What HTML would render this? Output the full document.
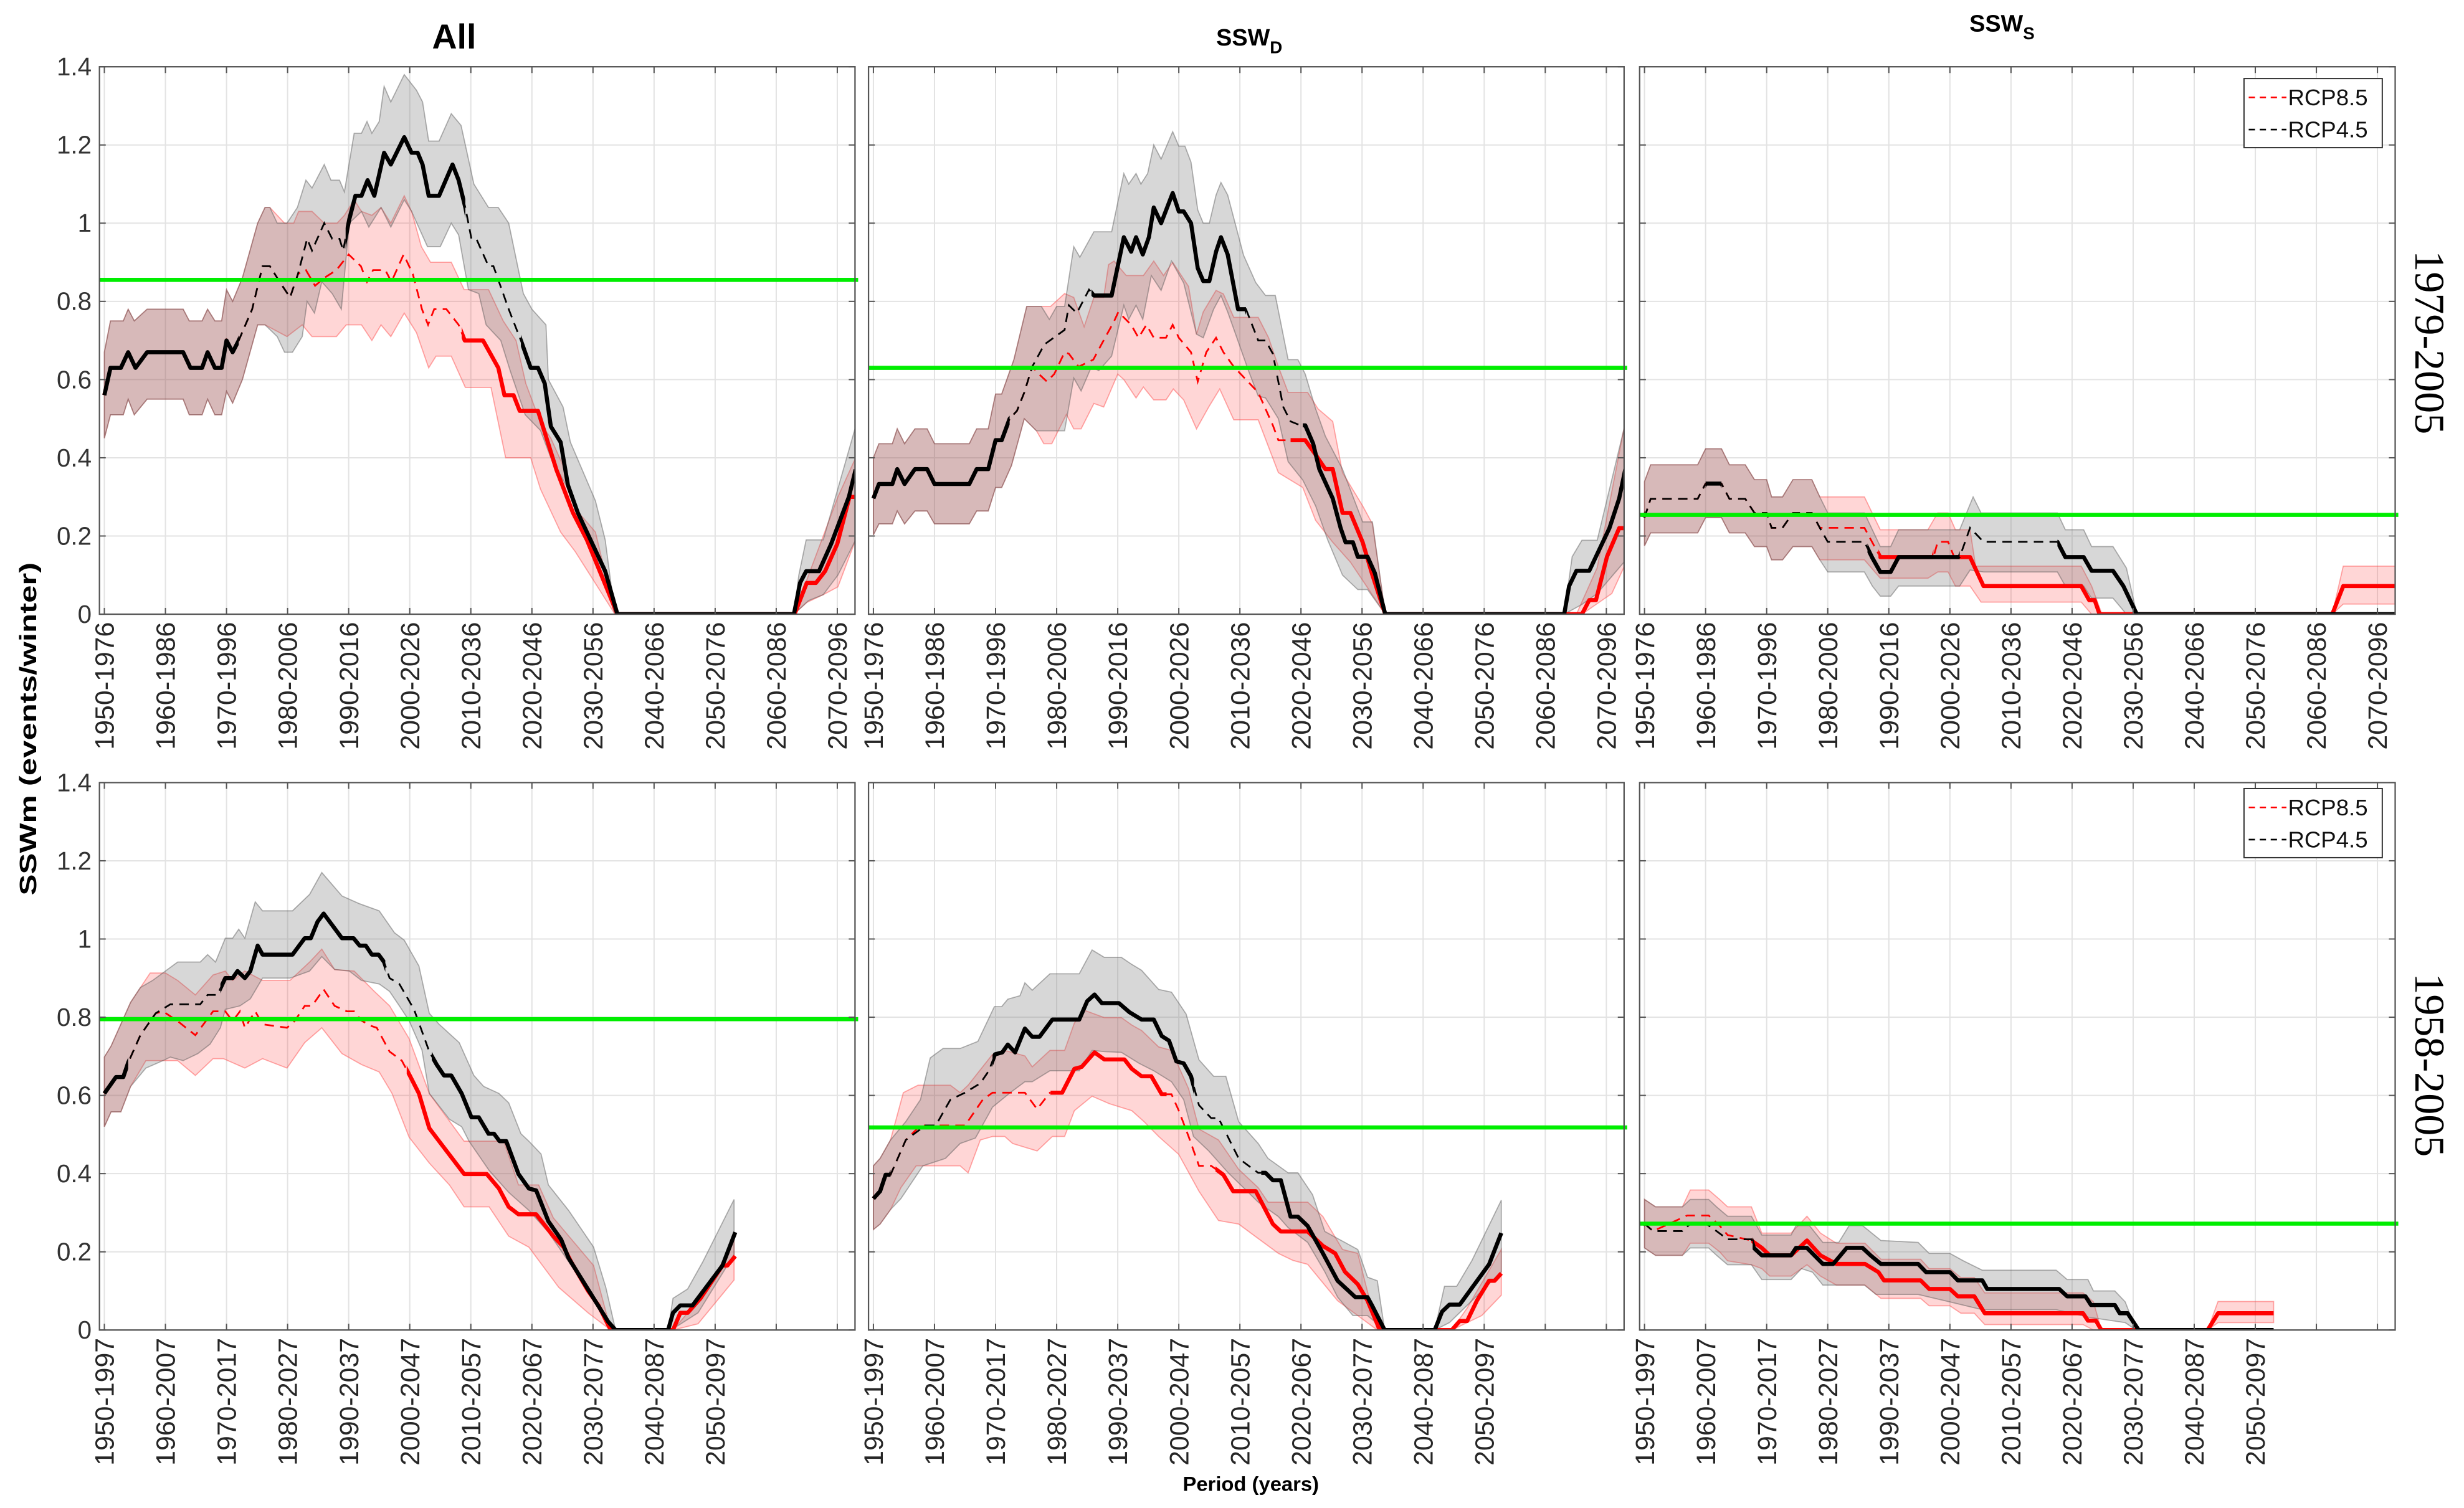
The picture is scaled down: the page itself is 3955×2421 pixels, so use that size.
<!DOCTYPE html>
<html><head><meta charset="utf-8"><title>SSW frequency (SSWm) for RCP4.5 and RCP8.5, 1950–2097</title>
<style>
html,body{margin:0;padding:0;background:#fff;}
svg{display:block;}
text{font-family:"Liberation Sans",Arial,sans-serif;}
</style></head>
<body>
<svg id="fig" xmlns="http://www.w3.org/2000/svg" width="3955" height="2421" viewBox="0 0 1568 960" preserveAspectRatio="none">
<rect x="0" y="0" width="1568" height="960" fill="#fff"/>
<g id="layer"></g>
<text x="289" y="31" text-anchor="middle" font-size="22" font-weight="bold">All</text>
<text x="795" y="29" text-anchor="middle" font-size="15" font-weight="bold">SSW<tspan font-size="11" dy="5">D</tspan></text>
<text x="1274" y="20" text-anchor="middle" font-size="15" font-weight="bold">SSW<tspan font-size="11" dy="5">S</tspan></text>
<text transform="translate(1537,218) rotate(90)" text-anchor="middle" font-size="27" style="font-family:'Liberation Serif',serif">1979-2005</text>
<text transform="translate(1537,678) rotate(90)" text-anchor="middle" font-size="27" style="font-family:'Liberation Serif',serif">1958-2005</text>
<text transform="translate(23,464) rotate(-90)" text-anchor="middle" font-size="15" font-weight="bold" textLength="212" lengthAdjust="spacingAndGlyphs">SSWm (events/winter)</text>
<text x="796" y="949" text-anchor="middle" font-size="13" font-weight="bold">Period (years)</text>
</svg>
<script>
// ---------- data (year, value) ----------
// Panel 1: All, 1979-2005
const p1_kM=[[1950,.56],[1951,.63],[1952.7,.63],[1953.9,.67],[1955.1,.63],[1957,.67],[1962.9,.67],[1964.1,.63],[1966,.63],[1966.9,.67],[1968.1,.63],[1969.2,.63],[1970,.7],[1971,.67],[1972,.7],[1974.2,.78],[1975.9,.89],[1977.1,.89],[1978.7,.85],[1980.4,.81],[1981.7,.87],[1983.2,.96],[1984,.93],[1986,1.0],[1987.3,.96],[1988.5,.96],[1989.1,.93],[1990.1,1.01],[1991.1,1.07],[1992.1,1.07],[1993.1,1.11],[1994.2,1.07],[1995.8,1.18],[1996.9,1.15],[1999.1,1.22],[2000.3,1.18],[2001.3,1.18],[2002.1,1.15],[2003.1,1.07],[2004.8,1.07],[2007,1.15],[2008,1.11],[2009.1,1.04],[2010.1,.96],[2010.9,.96],[2012.9,.89],[2013.7,.89],[2016.2,.78],[2018.2,.7],[2019.8,.63],[2021,.63],[2022.1,.59],[2023.1,.48],[2024.7,.44],[2025.9,.33],[2027.5,.26],[2032,.11],[2034,0],[2062.9,0],[2063.9,.08],[2064.9,.11],[2067,.11],[2069,.18],[2071.9,.3],[2073,.37]];
const p1_kD=[[1972,1989.5],[2009.1,2018.2]];
const p1_kH=[[1950,.67],[1951,.75],[1953.1,.75],[1953.9,.78],[1954.9,.75],[1957,.78],[1962.9,.78],[1963.9,.75],[1966,.75],[1966.9,.78],[1968.1,.75],[1969.2,.75],[1970,.83],[1971,.8],[1972.6,.86],[1975.1,1.0],[1976.3,1.04],[1977.1,1.04],[1978.3,1.0],[1979.9,1.0],[1981.6,1.04],[1983,1.11],[1984,1.09],[1986,1.15],[1987.1,1.11],[1988.5,1.11],[1989.3,1.08],[1990.9,1.23],[1992.1,1.23],[1993,1.26],[1993.8,1.23],[1995,1.26],[1995.8,1.35],[1996.9,1.31],[1999.1,1.38],[2001.1,1.34],[2002.1,1.31],[2003.1,1.21],[2004.8,1.21],[2006.8,1.28],[2008.4,1.25],[2010.5,1.1],[2012.9,1.04],[2014.5,1.04],[2016.2,1.0],[2018.6,.82],[2020,.78],[2022.3,.74],[2022.7,.6],[2025.1,.53],[2026.3,.44],[2030.4,.29],[2032,.19],[2033.6,0],[2062.9,0],[2063.7,.1],[2064.9,.19],[2067.7,.19],[2073,.48]];
const p1_kL=[[1950,.45],[1951,.51],[1953.1,.51],[1953.9,.55],[1954.9,.51],[1957,.55],[1962.9,.55],[1963.9,.51],[1966,.51],[1966.9,.55],[1968.1,.51],[1969.2,.51],[1970,.57],[1971,.54],[1972.6,.6],[1975.1,.74],[1976.3,.74],[1978.3,.71],[1979.5,.67],[1980.8,.67],[1982.4,.71],[1983.2,.8],[1984.4,.77],[1985.6,.85],[1987.3,.82],[1988.8,.78],[1990.1,1.0],[1992.1,1.03],[1993.3,.99],[1995.3,1.04],[1996.9,.99],[1999.1,1.06],[2000.3,1.03],[2002.9,.94],[2005,.94],[2006.8,1.0],[2008,.97],[2009.6,.83],[2011.3,.82],[2012.5,.74],[2014.9,.7],[2016.5,.62],[2018.9,.51],[2021.4,.47],[2023.1,.4],[2026.3,.31],[2029.6,.19],[2033.6,0],[2062.9,0],[2065.3,.035],[2067.7,.05],[2070.1,.1],[2073,.19]];
const p1_rM=p1_kM.filter(p=>p[0]<1981).concat([[1981.7,.87],[1983,.88],[1984.5,.84],[1986,.86],[1988,.88],[1990,.92],[1992,.89],[1993,.85],[1994,.88],[1996,.88],[1997,.85],[1999,.92],[2000.5,.87],[2002,.78],[2003,.74],[2004,.78],[2006,.78],[2008,.74],[2009,.7],[2012,.7],[2014.5,.63],[2015.5,.56],[2017,.56],[2018,.52],[2021,.52],[2024,.37],[2026.7,.26],[2029,.19],[2034,0],[2063,0],[2065,.08],[2066.5,.08],[2068,.11],[2070,.18],[2072,.3],[2073,.3]]);
const p1_rD=[[1950,2008.5]];
const p1_rH=p1_kH.filter(p=>p[0]<1977.2).concat([[1979.5,1.0],[1981,1.0],[1981.8,1.03],[1984,1.03],[1986,1.0],[1988.1,1.0],[1989.3,1.02],[1990.9,1.06],[1992.1,1.03],[1993.8,1.02],[1995.3,1.04],[1996.9,1.0],[1999.1,1.07],[2000.3,1.03],[2001.9,.94],[2003.4,.9],[2006.8,.9],[2008.9,.83],[2012.9,.83],[2015.3,.75],[2017.4,.7],[2019,.59],[2021.4,.49],[2023.1,.45],[2025.1,.38],[2027.1,.27],[2030.4,.21],[2033.6,0],[2062.9,0],[2065.3,.1],[2070.1,.3],[2073,.4]]);
const p1_rL=p1_kL.filter(p=>p[0]<1976.5).concat([[1979.9,.71],[1982.4,.74],[1984,.71],[1988,.71],[1989.6,.74],[1992.1,.74],[1993.8,.7],[1995.3,.74],[1996.9,.71],[1999.1,.77],[2001.1,.72],[2003.1,.63],[2004.3,.66],[2006.8,.66],[2009.1,.58],[2013.3,.58],[2015.7,.4],[2019.8,.4],[2021.4,.32],[2024.7,.21],[2027.1,.16],[2033.6,0],[2062.9,0],[2065,.03],[2067.7,.05],[2070.1,.07],[2073,.19]]);
const p1_green=[0.855];

// Panel 2: SSW_D, 1979-2005
const p2_kM=[[1950,.296],[1950.9,.333],[1953.1,.333],[1953.9,.371],[1955.1,.333],[1956.8,.371],[1958.8,.371],[1960,.333],[1965.7,.333],[1966.9,.371],[1968.8,.371],[1970,.445],[1971,.445],[1972.3,.5],[1973.5,.52],[1974.7,.567],[1976,.633],[1978,.69],[1981.3,.727],[1982,.79],[1983.3,.77],[1985.3,.83],[1986.1,.815],[1989,.815],[1991,.964],[1992.2,.927],[1993,.964],[1994.1,.92],[1995.1,.964],[1995.9,1.04],[1997.1,1.0],[1999,1.077],[2000,1.03],[2000.8,1.03],[2002,1.0],[2003.1,.885],[2004,.852],[2005,.852],[2006.1,.927],[2006.9,.964],[2008,.92],[2009.7,.78],[2011,.78],[2013,.7],[2014.2,.7],[2015.4,.666],[2017.1,.53],[2018.3,.493],[2019.9,.483],[2020.7,.483],[2022,.436],[2023,.371],[2025.2,.296],[2026.5,.22],[2027.3,.184],[2028.5,.184],[2029.3,.147],[2030.9,.147],[2032.1,.105],[2033.8,0],[2063.1,0],[2063.9,.072],[2065.1,.111],[2067.2,.111],[2070.5,.22],[2072.1,.296],[2073.1,.371]];
const p2_kD=[[1972.3,1985.7],[2011,2020.3]];
const p2_kH=[[1950,.4],[1950.9,.436],[1953.1,.436],[1953.9,.474],[1955.1,.436],[1956.8,.474],[1958.8,.474],[1960,.436],[1965.7,.436],[1966.9,.474],[1968.8,.474],[1970,.563],[1971,.563],[1973,.651],[1975.1,.787],[1977.5,.787],[1978.8,.754],[1980,.787],[1981.3,.787],[1982.8,.94],[1983.8,.913],[1986.1,.978],[1989,.978],[1991,1.127],[1991.8,1.1],[1993,1.127],[1993.8,1.1],[1994.9,1.127],[1995.9,1.2],[1997.1,1.164],[1999,1.234],[2000,1.197],[2001,1.197],[2002,1.156],[2003.1,1.034],[2004,1.0],[2005,1.0],[2006.1,1.072],[2006.9,1.104],[2008,1.072],[2010.6,.918],[2012.6,.848],[2014.2,.815],[2015.8,.815],[2017.9,.651],[2019.5,.651],[2020.7,.614],[2022.4,.525],[2024,.455],[2026.8,.371],[2030.1,.236],[2031.7,.236],[2033.8,0],[2063.1,0],[2064.4,.147],[2066,.189],[2068.5,.189],[2073.1,.488]];
const p2_kL=[[1950,.203],[1950.9,.231],[1953.1,.231],[1953.9,.264],[1955.1,.231],[1956.8,.264],[1958.8,.264],[1960,.231],[1965.7,.231],[1966.9,.264],[1968.8,.264],[1970,.324],[1971,.324],[1972.6,.38],[1974.7,.5],[1976.7,.469],[1981.3,.469],[1982.8,.604],[1984,.571],[1985.7,.633],[1986.9,.623],[1989,.66],[1991,.79],[1991.8,.754],[1993,.79],[1994.1,.754],[1995.5,.866],[1997.1,.828],[1998.8,.903],[2000.8,.847],[2002.9,.716],[2004,.707],[2005.7,.78],[2006.9,.815],[2008,.773],[2009.3,.716],[2011.4,.623],[2013,.558],[2014.2,.553],[2016.3,.5],[2017.9,.39],[2020.3,.343],[2022.4,.277],[2024.4,.189],[2026.8,.1],[2029.3,.063],[2030.9,.063],[2033.8,0],[2063.1,0],[2066,.025],[2068.5,.053],[2073.1,.137]];
const p2_rM=p2_kM.filter(p=>p[0]<1976.5).concat([[1977.1,.614],[1978.4,.595],[1979.6,.614],[1981.3,.67],[1982,.666],[1983.6,.633],[1986,.651],[1987.3,.689],[1989.4,.749],[1990.1,.773],[1992.2,.74],[1993.4,.707],[1994.7,.74],[1995.9,.707],[1997.9,.707],[1999,.74],[2000,.707],[2002,.67],[2003.1,.595],[2004.5,.67],[2006.1,.707],[2007.3,.67],[2009,.633],[2013,.567],[2015.4,.483],[2016.3,.445],[2017.9,.445],[2020.7,.445],[2022.4,.408],[2024,.371],[2025.2,.371],[2026.8,.259],[2028.1,.259],[2030.1,.184],[2031.7,.1],[2033.8,0],[2066,0],[2067.2,.036],[2068.3,.036],[2070.1,.147],[2072.1,.22],[2073.1,.22]]);
const p2_rD=[[1950,2018.3]];
const p2_rH=p2_kH.filter(p=>p[0]<1976).concat([[1976.7,.787],[1979,.787],[1981.3,.82],[1982.8,.81],[1984.5,.735],[1986.1,.81],[1987.7,.81],[1988.5,.894],[1989.4,.903],[1991.4,.866],[1993,.866],[1994.2,.866],[1995.9,.903],[1997.5,.866],[1999,.9],[2001.6,.838],[2002.9,.716],[2004,.773],[2006.1,.828],[2007.3,.819],[2009,.759],[2013,.759],[2014.7,.707],[2016.3,.633],[2017.9,.567],[2021.1,.567],[2022.8,.525],[2025.2,.493],[2026.8,.362],[2030.1,.277],[2031.7,.231],[2033.8,0],[2065.1,0],[2068.5,.119],[2073.1,.493]]);
const p2_rL=p2_kL.filter(p=>p[0]<1976).concat([[1976.7,.469],[1977.9,.436],[1979.2,.436],[1981.6,.511],[1982.8,.474],[1984,.474],[1986.1,.539],[1987.7,.53],[1990,.614],[1991,.6],[1993,.553],[1994.2,.581],[1995.9,.548],[1997.9,.548],[1999.1,.576],[2000.8,.548],[2002.9,.474],[2004.9,.53],[2006.7,.576],[2009,.497],[2013,.497],[2016.3,.362],[2020.3,.324],[2022.4,.24],[2025.2,.184],[2028.1,.133],[2033.8,0],[2066,0],[2070.9,.053],[2073.1,.128]]);
const p2_green=[0.63];

// Panel 3: SSW_S, 1979-2005
const p3_kM=[[1950,.247],[1951,.295],[1958.7,.295],[1960,.334],[1962.6,.334],[1963.9,.295],[1966.5,.295],[1968,.259],[1970,.259],[1970.8,.221],[1972.6,.221],[1974.3,.259],[1977.4,.259],[1978.7,.221],[1980,.185],[1986,.185],[1987.3,.144],[1988.6,.108],[1990.3,.108],[1991.6,.146],[2001.6,.146],[2003.3,.221],[2005.5,.185],[2017.6,.185],[2018.9,.146],[2021.9,.146],[2023.2,.111],[2026.7,.111],[2028.4,.072],[2030.6,0],[2072.9,0]];
const p3_kD=[[1950,1960],[1962.6,1986.5],[2001.6,2017.6]];
const p3_kH=[[1950,.339],[1951,.382],[1958.7,.382],[1960,.423],[1962.6,.423],[1963.9,.382],[1966.5,.382],[1968,.344],[1970,.344],[1970.8,.3],[1972.6,.3],[1974.3,.344],[1977.4,.344],[1978.7,.3],[1980,.259],[1986,.259],[1987.3,.216],[1988.6,.173],[1990.3,.173],[1991.6,.216],[2001.6,.216],[2003.8,.3],[2005.1,.259],[2017.6,.259],[2018.9,.216],[2021.9,.216],[2023.2,.173],[2026.7,.173],[2028.9,.118],[2030.6,0],[2072.9,0]];
const p3_kL=[[1950,.175],[1951,.208],[1958.7,.208],[1960,.247],[1962.6,.247],[1963.9,.208],[1966.5,.208],[1968,.173],[1970,.173],[1970.8,.139],[1972.6,.139],[1974.3,.173],[1977.4,.173],[1978.7,.139],[1980,.108],[1986,.108],[1987.3,.072],[1988.6,.046],[1990.3,.046],[1991.6,.072],[2001.6,.072],[2003.3,.113],[2005.5,.108],[2017.6,.108],[2018.9,.072],[2021.9,.072],[2023.2,.041],[2026.7,.041],[2028.9,0],[2072.9,0]];
const p3_rM=p3_kM.filter(p=>p[0]<1978).concat([[1978.7,.221],[1986,.221],[1988.6,.146],[1997.3,.146],[1998,.185],[1999.7,.185],[2000.7,.146],[2003.3,.146],[2005.5,.072],[2021.5,.072],[2022.8,.036],[2023.7,.036],[2024.5,0],[2062.6,0],[2064.4,.072],[2072.9,.072]]);
const p3_rD=[[1950,1988.3],[1997.3,2001]];
const p3_rH=p3_kH.filter(p=>p[0]<1978).concat([[1978.7,.3],[1986,.3],[1988.6,.216],[1996.4,.216],[1998,.259],[1999.7,.259],[2000.9,.216],[2003.3,.216],[2004.2,.123],[2021.5,.123],[2023.2,.072],[2024.9,0],[2062.6,0],[2064.4,.123],[2072.9,.123]]);
const p3_rL=p3_kL.filter(p=>p[0]<1978).concat([[1978.7,.139],[1986,.139],[1988.6,.092],[1996.4,.092],[1998,.108],[1999.7,.108],[2000.9,.072],[2003.3,.072],[2005.1,.031],[2021.5,.031],[2023.2,0],[2062.6,0],[2064.4,.026],[2072.9,.026]]);
const p3_green=[0.254];

// Panel 4: All, 1958-2005
const p4_kM=[[1950,.605],[1951.9,.647],[1953.1,.647],[1953.9,.684],[1955.9,.754],[1958.4,.81],[1960.8,.833],[1965.7,.833],[1966.9,.857],[1968.5,.857],[1969.8,.9],[1971,.9],[1971.8,.918],[1973,.9],[1973.9,.918],[1975.1,.983],[1975.9,.96],[1980.8,.96],[1982.8,1.002],[1983.8,1.002],[1984.9,1.044],[1985.9,1.065],[1988.9,1.002],[1990.8,1.002],[1991.8,.983],[1992.8,.983],[1993.8,.96],[1994.9,.96],[1995.8,.941],[1996.7,.9],[1998.3,.885],[2000.7,.82],[2003.2,.712],[2004.4,.679],[2005.6,.651],[2006.8,.651],[2008.5,.605],[2010.1,.544],[2011.3,.544],[2012.9,.502],[2013.8,.502],[2014.7,.483],[2015.8,.483],[2017.8,.399],[2019.5,.362],[2020.7,.357],[2022.7,.278],[2024.8,.231],[2026,.184],[2032.5,.021],[2033.7,0],[2042.3,0],[2043.1,.044],[2044.3,.063],[2046.3,.063],[2051.2,.165],[2053.3,.25]];
const p4_kD=[[1953.9,1969],[1996,2003.6]];
const p4_kH=[[1950,.698],[1951.1,.726],[1954.3,.838],[1955.9,.876],[1957.9,.894],[1960,.918],[1962,.941],[1965.7,.941],[1966.9,.96],[1968.2,.941],[1969.8,1.002],[1971,1.002],[1972,1.025],[1973,1.002],[1974.7,1.095],[1975.9,1.072],[1980.8,1.072],[1983.6,1.114],[1985.6,1.17],[1988.9,1.11],[1991.8,1.09],[1995,1.072],[1997.5,1.016],[1999.1,.997],[2001.5,.931],[2003.2,.81],[2004.8,.782],[2008.1,.735],[2010.5,.651],[2012.1,.623],[2014.6,.605],[2016.2,.581],[2018.2,.502],[2019.5,.483],[2021.5,.45],[2022.7,.371],[2026,.306],[2030.1,.212],[2032.1,.109],[2033.7,0],[2042.3,0],[2043.1,.081],[2045.5,.105],[2048,.175],[2053.1,.334]];
const p4_kL=[[1950,.52],[1951.1,.558],[1952.7,.558],[1954.3,.623],[1956.8,.67],[1959.6,.689],[1960.8,.698],[1962.9,.689],[1965.3,.707],[1967.3,.731],[1969,.773],[1969.8,.82],[1972.2,.829],[1973.9,.847],[1975.9,.9],[1980.4,.9],[1983.6,.918],[1985.6,.955],[1987.7,.922],[1990.1,.918],[1992.1,.894],[1995,.885],[1996.7,.866],[1998.3,.829],[1999.9,.791],[2002,.716],[2003.2,.605],[2006.5,.539],[2008.5,.52],[2009.7,.483],[2013,.408],[2016.2,.352],[2019.5,.306],[2022.7,.25],[2026,.175],[2029.2,.1],[2031.7,.035],[2033.7,0],[2042.3,0],[2043.9,.011],[2047.2,.044],[2053.1,.193]];
const p4_rM=p4_kM.filter(p=>p[0]<1956).concat([[1958.4,.81],[1959.6,.815],[1962,.79],[1964.9,.754],[1967.8,.815],[1969.8,.815],[1971,.79],[1972.2,.815],[1973,.773],[1974.7,.815],[1975.9,.782],[1979.9,.773],[1981.2,.791],[1982.8,.829],[1984,.829],[1985.9,.871],[1987.7,.829],[1989.7,.815],[1990.9,.815],[1992.1,.791],[1993.8,.777],[1994.6,.773],[1996.7,.712],[1998.7,.689],[2000,.651],[2001.5,.605],[2003.2,.516],[2004.8,.483],[2008.9,.399],[2012.6,.399],[2014.6,.362],[2016.2,.315],[2017.8,.296],[2020.7,.296],[2023.5,.24],[2025.2,.212],[2026.4,.175],[2029.2,.1],[2030.9,.063],[2032.9,0],[2043.1,0],[2044.3,.044],[2045.5,.044],[2047.6,.081],[2051.2,.165],[2052,.165],[2053.3,.189]]);
const p4_rD=[[1950,1999.5]];
const p4_rH=p4_kH.filter(p=>p[0]<1955).concat([[1957.5,.913],[1960,.913],[1962,.894],[1964.9,.857],[1967.8,.908],[1969.8,.918],[1971,.894],[1973,.918],[1975.9,.894],[1980.4,.894],[1983.6,.941],[1985.6,.974],[1987.7,.922],[1990.9,.918],[1994.2,.866],[1996.7,.829],[1999.9,.745],[2003.2,.605],[2008.9,.483],[2015.4,.483],[2017.8,.371],[2021.1,.371],[2023.5,.287],[2030.1,.165],[2032.9,0],[2043.1,0],[2045.5,.044],[2049.3,.119],[2053.1,.231]]);
const p4_rL=p4_kL.filter(p=>p[0]<1955).concat([[1956.8,.689],[1960,.689],[1962,.689],[1964.9,.651],[1967.8,.694],[1969.5,.694],[1973,.67],[1975.9,.694],[1979.9,.67],[1982.8,.735],[1985.6,.773],[1988.9,.707],[1992.1,.679],[1995,.66],[1997.1,.605],[1999.9,.493],[2003.2,.427],[2006.5,.371],[2008.9,.315],[2013,.315],[2016.2,.24],[2019.5,.212],[2024.4,.109],[2029.2,.044],[2032.9,0],[2043.1,0],[2047.2,.016],[2053.1,.128]]);
const p4_green=[0.795];

// Panel 5: SSW_D, 1958-2005
const p5_kM=[[1950,.336],[1951.1,.355],[1952,.397],[1952.8,.397],[1955.3,.486],[1958.5,.523],[1960.2,.523],[1962.6,.589],[1965,.607],[1967.5,.631],[1968.9,.663],[1969.9,.705],[1971.1,.71],[1972,.73],[1973.2,.71],[1974.8,.771],[1976,.75],[1977.2,.75],[1979.3,.794],[1983.7,.794],[1985,.841],[1986.2,.858],[1987.4,.836],[1990.2,.836],[1991.9,.813],[1993.9,.794],[1995.9,.794],[1997.2,.752],[1998.4,.74],[1999.6,.687],[2000.8,.682],[2002,.649],[2003.3,.575],[2005.3,.542],[2006.5,.542],[2009.8,.439],[2012.2,.411],[2013,.402],[2014.2,.402],[2015.4,.383],[2016.7,.383],[2018.3,.29],[2019.5,.29],[2021.1,.266],[2023.6,.196],[2026,.126],[2027.6,.103],[2028.9,.084],[2030.9,.084],[2031.7,.061],[2033.7,0],[2041.9,0],[2043.1,.047],[2044.3,.065],[2046,.065],[2050.8,.168],[2052.8,.248]];
const p5_kD=[[1952.8,1969.5],[2002.5,2013.5]];
const p5_kH=[[1950,.42],[1951.1,.439],[1952.8,.486],[1955.3,.533],[1957.7,.589],[1959.3,.696],[1961.4,.72],[1964.2,.72],[1967.1,.738],[1969.8,.827],[1971,.827],[1972,.846],[1974,.855],[1974.8,.888],[1976,.869],[1978.9,.911],[1983.7,.911],[1985.8,.972],[1987.8,.953],[1990.6,.953],[1992.3,.935],[1993.9,.92],[1996.7,.871],[1998.8,.864],[2001.2,.808],[2003.3,.691],[2005.7,.649],[2007.7,.649],[2009.8,.533],[2013,.477],[2014.6,.439],[2017.9,.402],[2019.5,.402],[2021.9,.346],[2023.9,.252],[2026,.234],[2029.3,.206],[2030.9,.135],[2032.5,.126],[2033.7,0],[2041.9,0],[2043.5,.112],[2045.5,.112],[2048,.178],[2052.8,.332]];
const p5_kL=[[1950,.257],[1951.1,.271],[1952.8,.308],[1954.5,.336],[1958.1,.42],[1961.8,.439],[1964.2,.477],[1966.7,.491],[1969.5,.57],[1972.4,.607],[1974.8,.635],[1976,.635],[1978.9,.663],[1983.7,.663],[1985.8,.715],[1987.8,.712],[1990.6,.71],[1993.5,.682],[1995.9,.663],[1998.8,.635],[2000.8,.589],[2002.4,.495],[2004.9,.458],[2008.1,.402],[2010.6,.364],[2013,.327],[2016.3,.29],[2017.9,.262],[2021.1,.224],[2023.9,.149],[2026,.084],[2028.5,.037],[2030.9,.037],[2033.7,0],[2041.9,0],[2044.3,.019],[2048,.075],[2052.8,.149]];
const p5_rM=p5_kM.filter(p=>p[0]<1957).concat([[1957.7,.523],[1965,.523],[1967.9,.589],[1969.5,.607],[1974.8,.607],[1976.8,.565],[1978.9,.607],[1980.9,.607],[1982.9,.668],[1984.1,.673],[1986.2,.71],[1987.8,.692],[1991.1,.692],[1992.3,.668],[1993.9,.649],[1995.5,.649],[1997.2,.603],[1998.8,.603],[2000,.561],[2001.6,.495],[2003.3,.42],[2005.3,.42],[2007.3,.397],[2008.9,.355],[2012.6,.355],[2015.4,.271],[2016.7,.252],[2021.1,.252],[2023.6,.215],[2025.6,.196],[2027.2,.149],[2029.3,.117],[2030.9,.075],[2032.9,0],[2044.7,0],[2046,.023],[2047.2,.023],[2048.8,.075],[2050.8,.126],[2051.7,.126],[2052.8,.145]]);
const p5_rD=[[1950,1979],[1998,2006]];
const p5_rH=p5_kH.filter(p=>p[0]<1954).concat([[1954.9,.607],[1957.3,.626],[1962.6,.626],[1964.2,.607],[1965.5,.626],[1969.5,.705],[1971.5,.715],[1974.8,.701],[1976,.673],[1978.9,.715],[1981.3,.715],[1982.9,.785],[1984.5,.818],[1987.8,.799],[1990.6,.799],[1992.3,.78],[1993.9,.766],[1996.7,.724],[1998.8,.715],[2001.6,.617],[2003.3,.514],[2006.5,.486],[2009.8,.411],[2013,.364],[2014.6,.327],[2021.1,.327],[2023.6,.29],[2026.8,.206],[2029.3,.196],[2032.5,0],[2044.7,0],[2047.2,.056],[2052.8,.206]]);
const p5_rL=p5_kL.filter(p=>p[0]<1953).concat([[1954.5,.364],[1957,.42],[1964.2,.42],[1965.5,.402],[1967.5,.486],[1969.5,.495],[1971.5,.495],[1972.8,.477],[1976.8,.458],[1979.3,.495],[1981.3,.495],[1982.9,.561],[1985.8,.598],[1988.6,.579],[1992.3,.561],[1994.3,.533],[1996.7,.495],[2000,.449],[2003.3,.355],[2006.5,.28],[2009.8,.271],[2013,.234],[2016.3,.196],[2018.7,.178],[2021.1,.168],[2026,.075],[2029.3,.037],[2032.5,0],[2044.7,0],[2049.6,.037],[2052.8,.089]]);
const p5_green=[0.518];

// Panel 6: SSW_S, 1958-2005
const p6_kM=[[1950,.272],[1951.4,.253],[1956.2,.253],[1957.5,.272],[1960.1,.272],[1961.8,.253],[1963.6,.232],[1967.5,.232],[1967.9,.21],[1969.2,.191],[1974,.191],[1974.8,.21],[1976.6,.21],[1979.2,.169],[1980.9,.169],[1983.1,.21],[1985.7,.21],[1987,.191],[1988.7,.169],[1994.8,.169],[1996.1,.148],[2000,.148],[2001.3,.127],[2005.3,.127],[2006.1,.105],[2017.9,.105],[2019.2,.086],[2022.2,.086],[2023.1,.064],[2027,.064],[2027.8,.043],[2029.1,.043],[2030.9,0],[2053,0]];
const p6_kD=[[1950,1967.7]];
const p6_kH=[[1950,.334],[1951.8,.315],[1956.2,.315],[1957.5,.334],[1960.5,.334],[1961.8,.315],[1963.6,.291],[1967.5,.291],[1969.2,.243],[1974,.243],[1974.8,.267],[1977,.267],[1979.2,.224],[1981.8,.224],[1983.5,.267],[1985.7,.267],[1988.7,.229],[1994.8,.224],[1996.6,.196],[2000,.196],[2002.2,.177],[2005.3,.153],[2017.4,.153],[2019.2,.129],[2022.6,.129],[2023.5,.1],[2027,.1],[2028.7,.072],[2030.5,0],[2053,0]];
const p6_kL=[[1950,.21],[1951.8,.191],[1956.2,.191],[1957.5,.21],[1960.5,.21],[1961.8,.191],[1963.6,.167],[1967.5,.167],[1969.2,.129],[1974,.129],[1975.7,.157],[1977.5,.148],[1979.2,.115],[1986,.115],[1987.9,.091],[1994.8,.091],[2000,.072],[2005.3,.052],[2017.4,.052],[2022.6,.033],[2028.7,.019],[2030.5,0],[2053,0]];
const p6_rM=p6_kM.filter(p=>p[0]<1956).concat([[1957,.293],[1960.5,.293],[1962.3,.267],[1963.6,.243],[1967.5,.229],[1969.2,.21],[1970.5,.191],[1974,.191],[1976.6,.229],[1978.8,.191],[1981.4,.169],[1986.1,.169],[1988.3,.148],[1989.2,.127],[1995.2,.127],[1996.6,.105],[2000,.105],[2001.3,.086],[2004,.086],[2005.7,.043],[2021.8,.043],[2022.6,.024],[2023.9,.024],[2024.8,0],[2042.2,0],[2043.9,.043],[2053,.043]]);
const p6_rD=[[1950,1967.5]];
const p6_rH=p6_kH.filter(p=>p[0]<1957).concat([[1957.5,.358],[1960.5,.358],[1962.3,.334],[1963.6,.315],[1967.5,.315],[1969.2,.248],[1974,.248],[1976.6,.291],[1978.8,.248],[1981.4,.222],[1986.1,.222],[1988.7,.181],[1995.2,.181],[1996.6,.157],[2000,.157],[2001.8,.134],[2004,.134],[2005.7,.095],[2021.8,.095],[2023.5,.072],[2024.8,0],[2042.2,0],[2043.9,.073],[2053,.073]]);
const p6_rL=p6_kL.filter(p=>p[0]<1957).concat([[1957.5,.222],[1960.5,.222],[1962.3,.2],[1963.6,.177],[1967.5,.167],[1969.2,.157],[1970.5,.138],[1974,.138],[1976.6,.167],[1978.8,.138],[1981.4,.115],[1986.1,.115],[1988.7,.081],[1995.2,.081],[1996.6,.062],[2000,.062],[2001.8,.043],[2004,.043],[2005.7,.014],[2021.8,.014],[2023.5,0],[2042.2,0],[2043.9,.019],[2053,.019]]);
const p6_green=[0.272];

// ticks
const yTicks=[0,0.2,0.4,0.6,0.8,1,1.2,1.4];
const yTickLabels=["0","0.2","0.4","0.6","0.8","1","1.2","1.4"];
const xTickYears=[1950,1960,1970,1980,1990,2000,2010,2020,2030,2040,2050,2060,2070];
const xTickLabelsTop=["1950-1976","1960-1986","1970-1996","1980-2006","1990-2016","2000-2026","2010-2036","2020-2046","2030-2056","2040-2066","2050-2076","2060-2086","2070-2096"];
const xTickLabelsBottom=["1950-1997","1960-2007","1970-2017","1980-2027","1990-2037","2000-2047","2010-2057","2020-2067","2030-2077","2040-2087","2050-2097"];

// ---------- layout ----------
const XMIN=1949.2, XMAX=2072.9, YMAX=1.4;
const colX=[63.3,552.7,1043.4], PW=480.8;
const rowY=[42.5,498.2], PH=348.5;
const NS="http://www.w3.org/2000/svg";
const layer=document.getElementById('layer');
function el(tag,attrs,parent){const e=document.createElementNS(NS,tag);for(const k in attrs)e.setAttribute(k,attrs[k]);(parent||layer).appendChild(e);return e;}

const panels=[
 {n:'all-1979',c:0,r:0,kM:p1_kM,kH:p1_kH,kL:p1_kL,kD:p1_kD,rM:p1_rM,rH:p1_rH,rL:p1_rL,rD:p1_rD,g:p1_green,lab:xTickLabelsTop,leg:false},
 {n:'sswd-1979',c:1,r:0,kM:p2_kM,kH:p2_kH,kL:p2_kL,kD:p2_kD,rM:p2_rM,rH:p2_rH,rL:p2_rL,rD:p2_rD,g:p2_green,lab:xTickLabelsTop,leg:false},
 {n:'ssws-1979',c:2,r:0,kM:p3_kM,kH:p3_kH,kL:p3_kL,kD:p3_kD,rM:p3_rM,rH:p3_rH,rL:p3_rL,rD:p3_rD,g:p3_green,lab:xTickLabelsTop,leg:true},
 {n:'all-1958',c:0,r:1,kM:p4_kM,kH:p4_kH,kL:p4_kL,kD:p4_kD,rM:p4_rM,rH:p4_rH,rL:p4_rL,rD:p4_rD,g:p4_green,lab:xTickLabelsBottom,leg:false},
 {n:'sswd-1958',c:1,r:1,kM:p5_kM,kH:p5_kH,kL:p5_kL,kD:p5_kD,rM:p5_rM,rH:p5_rH,rL:p5_rL,rD:p5_rD,g:p5_green,lab:xTickLabelsBottom,leg:false},
 {n:'ssws-1958',c:2,r:1,kM:p6_kM,kH:p6_kH,kL:p6_kL,kD:p6_kD,rM:p6_rM,rH:p6_rH,rL:p6_rL,rD:p6_rD,g:p6_green,lab:xTickLabelsBottom,leg:true}
];

panels.forEach((p,i)=>{
  const x0=colX[p.c], y0=rowY[p.r];
  const X=yr=>x0+(yr-XMIN)/(XMAX-XMIN)*PW;
  const Y=v=>y0+PH-v/YMAX*PH;
  const g=el('g',{});
  
  
  const cp=el('clipPath',{id:'clip'+i},g);
  el('rect',{x:x0,y:y0,width:PW,height:PH},cp);
  yTicks.forEach(v=>{ if(v>0&&v<YMAX){const l=el('line',{x1:x0,x2:x0+PW,y1:Y(v),y2:Y(v),stroke:'#e3e3e3','stroke-width':0.8},g);
     }});
  xTickYears.forEach(yr=>{const l=el('line',{x1:X(yr),x2:X(yr),y1:y0,y2:y0+PH,stroke:'#e3e3e3','stroke-width':0.8},g);
     });
  const cg=el('g',{'clip-path':'url(#clip'+i+')'},g);
  function band(hi,lo,fill,op,stroke,name){
    const pts=hi.map(q=>X(q[0]).toFixed(2)+','+Y(q[1]).toFixed(2)).concat(lo.slice().reverse().map(q=>X(q[0]).toFixed(2)+','+Y(q[1]).toFixed(2)));
    const b=el('polygon',{points:pts.join(' '),fill:fill,'fill-opacity':op,stroke:stroke,'stroke-opacity':0.45,'stroke-width':0.7},cg);
     
  }
  band(p.rH,p.rL,'#ff0000',0.16,'#ff4040','band-rcp85');
  band(p.kH,p.kL,'#6e6e6e',0.28,'#555555','band-rcp45');
  const gl=el('line',{x1:x0,x2:x0+PW+2,y1:Y(p.g[0]),y2:Y(p.g[0]),stroke:'#00ee00','stroke-width':2.6},g);
   
  function series(arr,dash,color,wSolid,wDash,name){
    const d='M'+arr.map(q=>X(q[0]).toFixed(2)+','+Y(q[1]).toFixed(2)).join('L');
    const idS='cs'+i+name, idD='cd'+i+name;
    const cs=el('clipPath',{id:idS},g), cd=el('clipPath',{id:idD},g);
    let prev=XMIN-5;
    dash.concat([[XMAX+5,XMAX+5]]).forEach(r=>{
      el('rect',{x:X(prev),y:y0-10,width:Math.max(0,X(r[0])-X(prev)),height:PH+20},cs);
      if(r[1]>r[0]) el('rect',{x:X(r[0]),y:y0-10,width:X(r[1])-X(r[0]),height:PH+20},cd);
      prev=r[1];
    });
    const ss=el('path',{d:d,fill:'none',stroke:color,'stroke-width':wSolid,'stroke-linejoin':'round','clip-path':'url(#'+idS+')'},cg);
     
    const sd=el('path',{d:d,fill:'none',stroke:color,'stroke-width':wDash,'stroke-dasharray':'6,4','clip-path':'url(#'+idD+')'},cg);
     
  }
  series(p.rM,p.rD,'#ff0000',2.6,1.1,'rcp85');
  series(p.kM,p.kD,'#000000',2.6,1.1,'rcp45');
  const bx=el('rect',{x:x0,y:y0,width:PW,height:PH,fill:'none',stroke:'#555','stroke-width':0.9},g);
   
  yTicks.forEach((v,k)=>{
    el('line',{x1:x0,x2:x0+4,y1:Y(v),y2:Y(v),stroke:'#555','stroke-width':0.8},g);
    el('line',{x1:x0+PW-4,x2:x0+PW,y1:Y(v),y2:Y(v),stroke:'#555','stroke-width':0.8},g);
    if(p.c===0){const t=el('text',{x:x0-5,y:Y(v)+5.5,'text-anchor':'end','font-size':16,fill:'#333'},g);
      t.textContent=yTickLabels[k];
       }
  });
  xTickYears.forEach(yr=>{
    el('line',{x1:X(yr),x2:X(yr),y1:y0+PH-4,y2:y0+PH,stroke:'#555','stroke-width':0.8},g);
    el('line',{x1:X(yr),x2:X(yr),y1:y0,y2:y0+4,stroke:'#555','stroke-width':0.8},g);
  });
  p.lab.forEach((s,k)=>{
    const xx=X(xTickYears[k])+6, yy=y0+PH+5;
    const t=el('text',{transform:'translate('+xx.toFixed(2)+','+yy.toFixed(2)+') rotate(-90)','text-anchor':'end','font-size':17,fill:'#262626'},g);
    t.textContent=s;
     
  });
  if(p.leg){
    const lx=1428, ly=p.r===0?50:502, lw=88, lh=44;
    const lg=el('g',{},g);
     
    el('rect',{x:lx,y:ly,width:lw,height:lh,fill:'#fff',stroke:'#333','stroke-width':0.8},lg);
    [['RCP8.5','#ff0000'],['RCP4.5','#000000']].forEach((e,k)=>{
      const yy=ly+12+k*20.5;
      const le=el('g',{},lg);
      
      
      el('line',{x1:lx+3,x2:lx+27,y1:yy,y2:yy,stroke:e[1],'stroke-width':1,'stroke-dasharray':'4,3'},le);
      const t=el('text',{x:lx+28,y:yy+5,'font-size':14.5,fill:'#111'},le);
      t.textContent=e[0];
    });
  }
});
</script>
</body></html>
